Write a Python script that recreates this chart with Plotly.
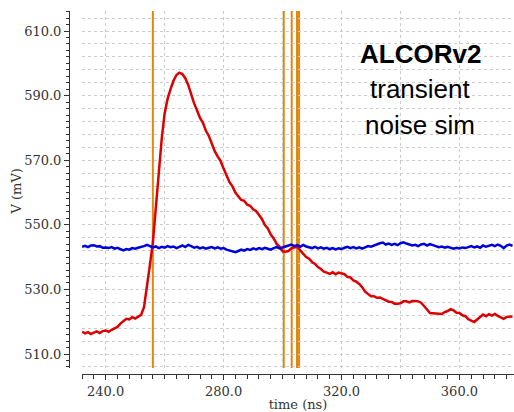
import plotly.graph_objects as go

# sample times (ns)
time_ns = list(range(232, 379))

# red trace (mV), one value per ns starting at 232 ns
red_mv = [
    516.9, 516.4, 516.8, 516.2, 516.6, 517.0, 516.5, 517.1, 517.3, 516.9,
    517.5, 517.9, 518.4, 519.4, 520.1, 520.9, 520.7, 521.4, 521.0, 521.6,
    522.1, 524.5, 530.5, 537.5, 544.5, 556.0, 567.5, 576.5, 584.5, 589.0,
    592.0, 594.6, 596.4, 597.1, 596.7, 595.4, 593.3, 590.4, 587.6, 585.4,
    583.1, 581.6, 579.1, 577.5, 574.9, 572.8, 571.1, 569.7, 567.4, 565.5,
    563.2, 561.9, 560.0, 558.8, 557.7, 557.4, 556.2, 555.9, 554.8, 554.3,
    552.9, 551.8, 549.9, 548.9, 547.0, 545.8, 544.1, 543.2, 541.8, 541.7,
    541.9, 542.7, 543.0, 543.2, 542.1, 541.1, 540.0, 539.5, 538.5, 537.9,
    536.9, 536.3, 535.5, 535.2, 534.8, 535.3, 534.7, 535.2, 534.9, 534.7,
    533.9, 533.7, 532.8, 532.4, 531.7, 530.7, 529.3, 528.5, 527.9, 527.9,
    527.4, 527.5, 527.0, 526.7, 526.2, 526.1, 525.6, 525.6, 525.7, 526.3,
    526.3, 526.0, 526.4, 526.4, 526.3, 525.9, 525.0, 523.8, 522.7, 522.6,
    522.5, 522.5, 522.4, 523.0, 523.3, 523.9, 523.5, 522.8, 522.7, 522.0,
    521.7, 520.8, 520.3, 519.9, 520.7, 521.4, 522.2, 521.7, 522.3, 521.9,
    522.4, 521.8, 521.3, 520.9, 521.5, 521.5, 521.6,
]

# blue trace (mV)
blue_mv = [
    543.2, 543.5, 543.1, 543.6, 543.7, 543.3, 543.4, 542.9, 543.0,
    542.8, 543.1, 542.6, 542.9, 542.4, 542.1, 542.5, 542.3, 542.8, 542.6,
    542.9, 543.1, 543.4, 543.8, 543.5, 543.0, 543.3, 542.8, 543.2, 542.9,
    543.4, 543.1, 543.3, 542.8, 543.2, 543.6, 543.1, 543.8, 543.4, 542.9,
    543.2, 542.7, 543.0, 542.6, 542.9, 543.1, 542.7, 543.0, 542.6, 542.8,
    542.3, 542.1, 541.8, 541.5, 541.9, 542.3, 542.0, 542.5, 542.2, 542.7,
    542.4, 542.8, 542.5, 542.9, 542.6, 542.3, 542.8, 543.1, 542.7, 542.9,
    543.3, 543.6, 543.9, 543.4, 543.7, 543.2, 543.8, 543.3, 543.1, 542.8,
    543.2, 542.7, 543.0, 542.6, 542.9, 542.5, 542.8, 542.4, 542.7, 542.5,
    542.9, 543.2, 542.8, 543.1, 542.7, 543.0, 542.6, 543.1, 543.4, 543.2,
    543.6, 544.0, 544.3, 544.5, 543.9, 544.2, 543.8, 544.1, 543.7, 544.3,
    544.6, 544.2, 543.9, 543.6, 543.8, 543.4, 543.9, 544.1, 543.6, 544.0,
    543.7, 543.4, 543.1, 543.3, 542.9, 543.2, 542.8, 542.6, 542.9, 542.7,
    543.0, 542.8, 543.1, 543.4, 543.0, 543.3, 542.9, 543.6, 543.2, 543.5,
    543.8, 543.4, 543.9, 543.5, 542.8, 543.6, 543.9, 543.5,
]

# vertical orange marker times (ns)
marker_times = [256.0, 300.4, 303.1, 304.9, 305.6]

x_range = [231.97, 378.5]
y_range = [505.67, 616.2]

title_lines = ["<b>ALCORv2</b>", "transient", "noise sim"]

serif = "DejaVu Serif"
axis_col = "#333333"

fig = go.Figure()
# empty helper trace so the grid-only overlay axes exist as a subplot
fig.add_trace(go.Scatter(x=[], y=[], xaxis="x2", yaxis="y2", mode="lines",
                         showlegend=False, hoverinfo="skip"))
fig.add_trace(go.Scatter(x=time_ns, y=red_mv, mode="lines",
                         line=dict(color="#DD0000", width=2.5), showlegend=False))
fig.add_trace(go.Scatter(x=time_ns, y=blue_mv, mode="lines",
                         line=dict(color="#0000DD", width=2.5), showlegend=False))

for t in marker_times:
    fig.add_shape(type="line", xref="x", yref="y domain", x0=t, x1=t, y0=0, y1=1,
                  line=dict(color="#E2870E", width=2), layer="below")

W, H = 514, 412
ml, mr, mt, mb = 69, 0, 11, 38
pw = W - ml - mr
ph = H - mt - mb
xdom0 = (82 - ml) / pw
ydom0 = (374 - 368) / ph

fig.update_layout(
    width=W, height=H,
    margin=dict(l=ml, r=mr, t=mt, b=mb, pad=0),
    paper_bgcolor="white", plot_bgcolor="white",
    showlegend=False,
    xaxis=dict(
        domain=[xdom0, 1], anchor="free", position=0,
        range=x_range, tick0=240, dtick=40, tickformat=".1f",
        ticks="outside", ticklen=5, tickcolor=axis_col, tickwidth=1,
        showline=True, linecolor=axis_col, linewidth=1,
        showgrid=True, gridcolor="#c4c4c4", griddash="dot", gridwidth=1,
        zeroline=False,
        tickfont=dict(family=serif, size=13, color=axis_col),
        title=dict(text="time (ns)", font=dict(family=serif, size=13, color=axis_col), standoff=3),
        minor=dict(ticks="outside", ticklen=4, dtick=4, tick0=240, tickcolor=axis_col, showgrid=False),
    ),
    yaxis=dict(
        domain=[ydom0, 1], anchor="free", position=0,
        range=y_range, tick0=510, dtick=20, tickformat=".1f",
        ticks="outside", ticklen=5, tickcolor=axis_col, tickwidth=1,
        showline=True, linecolor=axis_col, linewidth=1,
        showgrid=False, zeroline=False,
        tickfont=dict(family=serif, size=13, color=axis_col),
        minor=dict(ticks="outside", ticklen=3, dtick=2, tick0=510, tickcolor=axis_col, showgrid=False),
    ),
    xaxis2=dict(
        overlaying="x", anchor="y2", range=x_range, tick0=240, dtick=20,
        showgrid=True, gridcolor="#cacaca", griddash="dot", gridwidth=1,
        showticklabels=False, ticks="", showline=False, zeroline=False,
    ),
    yaxis2=dict(
        overlaying="y", anchor="x2", range=y_range, tick0=510, dtick=4,
        showgrid=True, gridcolor="#cccccc", griddash="dot", gridwidth=1,
        showticklabels=False, ticks="", showline=False, zeroline=False,
    ),
)

# y-axis title
fig.add_annotation(
    xref="paper", yref="paper", x=(16 - ml) / pw, y=(H - mb - 191.5) / ph,
    text="V (mV)", textangle=-90, showarrow=False, xanchor="center", yanchor="middle",
    font=dict(family=serif, size=13, color=axis_col),
)

ann_y_px = [54, 88.5, 125]
for txt, ypx in zip(title_lines, ann_y_px):
    fig.add_annotation(
        xref="paper", yref="paper",
        x=(420 - ml) / pw, y=(H - mb - ypx) / ph,
        text=txt, showarrow=False, xanchor="center", yanchor="middle",
        font=dict(family="Liberation Sans", size=26, color="black"),
    )

fig.write_html("out.html")
